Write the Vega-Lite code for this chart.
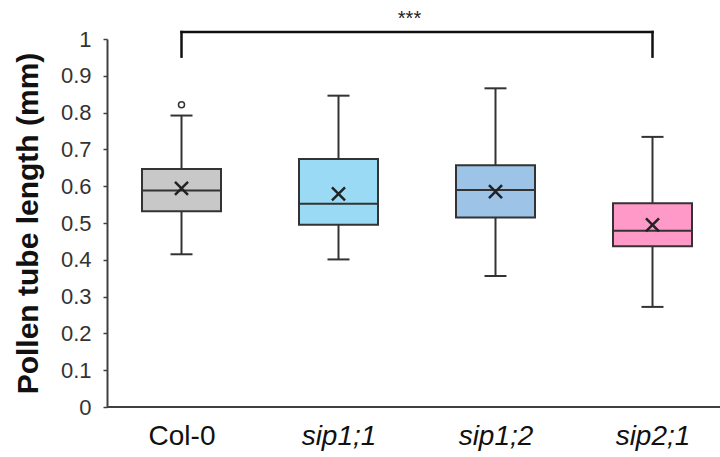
{
  "$schema": "https://vega.github.io/schema/vega-lite/v6.json",
  "autosize": {"type": "none"},
  "width": 613,
  "height": 368,
  "padding": {"left": 107, "top": 39, "right": 0, "bottom": 50},
  "background": "white",
  "config": {
    "font": "Liberation Sans",
    "view": {"stroke": null},
    "axisY": {
      "labelOverlap": false, "format": ".1~f",
      "labelFontSize": 22, "labelColor": "#333333", "labelPadding": 12,
      "titleFontSize": 30, "titleFontWeight": "bold", "titleColor": "#111111", "titlePadding": 17,
      "grid": false, "domainColor": "#404040", "domainWidth": 2, "tickColor": "#404040", "tickSize": 4, "tickWidth": 1.5
    }
  },
  "data": {
    "values": [
      {"group": "Col-0", "min": 0.415, "q1": 0.532, "median": 0.588, "q3": 0.647, "max": 0.792, "mean": 0.594},
      {"group": "sip1;1", "min": 0.401, "q1": 0.495, "median": 0.552, "q3": 0.674, "max": 0.846, "mean": 0.579},
      {"group": "sip1;2", "min": 0.356, "q1": 0.515, "median": 0.590, "q3": 0.657, "max": 0.866, "mean": 0.585},
      {"group": "sip2;1", "min": 0.272, "q1": 0.437, "median": 0.479, "q3": 0.554, "max": 0.734, "mean": 0.495}
    ]
  },
  "encoding": {
    "x": {
      "field": "group", "type": "nominal",
      "scale": {"type": "point", "domain": ["Col-0", "sip1;1", "sip1;2", "sip2;1"], "range": [74.5, 545.5], "padding": 0},
      "axis": {
        "title": null, "domain": false, "ticks": false, "labelAngle": 0,
        "labelFontSize": 28, "labelColor": "#111111", "labelPadding": 15,
        "labelFontStyle": {"condition": {"test": "datum.value == 'Col-0'", "value": "normal"}, "value": "italic"}
      }
    }
  },
  "layer": [
    {
      "mark": {"type": "rule", "color": "#333333", "strokeWidth": 2},
      "encoding": {
        "y": {"field": "min", "type": "quantitative", "scale": {"domain": [0, 1], "nice": false},
          "axis": {"title": "Pollen tube length (mm)", "labelOverlap": false, "values": [0, 0.1, 0.2, 0.3, 0.4, 0.5, 0.6, 0.7, 0.8, 0.9, 1]}},
        "y2": {"field": "q1"}
      }
    },
    {
      "mark": {"type": "rule", "color": "#333333", "strokeWidth": 2},
      "encoding": {"y": {"field": "q3", "type": "quantitative", "axis": {"title": "Pollen tube length (mm)", "labelOverlap": false, "values": [0, 0.1, 0.2, 0.3, 0.4, 0.5, 0.6, 0.7, 0.8, 0.9, 1]}}, "y2": {"field": "max"}}
    },
    {
      "mark": {"type": "tick", "color": "#333333", "size": 22, "thickness": 2, "opacity": 1},
      "encoding": {"y": {"field": "min", "type": "quantitative", "axis": {"title": "Pollen tube length (mm)", "labelOverlap": false, "values": [0, 0.1, 0.2, 0.3, 0.4, 0.5, 0.6, 0.7, 0.8, 0.9, 1]}}}
    },
    {
      "mark": {"type": "tick", "color": "#333333", "size": 22, "thickness": 2, "opacity": 1},
      "encoding": {"y": {"field": "max", "type": "quantitative", "axis": {"title": "Pollen tube length (mm)", "labelOverlap": false, "values": [0, 0.1, 0.2, 0.3, 0.4, 0.5, 0.6, 0.7, 0.8, 0.9, 1]}}}
    },
    {
      "mark": {"type": "bar", "width": 79, "stroke": "#333333", "strokeWidth": 2, "opacity": 1},
      "encoding": {
        "y": {"field": "q1", "type": "quantitative", "axis": {"title": "Pollen tube length (mm)", "labelOverlap": false, "values": [0, 0.1, 0.2, 0.3, 0.4, 0.5, 0.6, 0.7, 0.8, 0.9, 1]}}, "y2": {"field": "q3"},
        "color": {"field": "group", "type": "nominal", "legend": null,
          "scale": {"domain": ["Col-0", "sip1;1", "sip1;2", "sip2;1"], "range": ["#C8C8C8", "#9BDAF5", "#9DC3E6", "#FF99C7"]}}
      }
    },
    {
      "mark": {"type": "tick", "color": "#333333", "size": 79, "thickness": 2, "opacity": 1},
      "encoding": {"y": {"field": "median", "type": "quantitative", "axis": {"title": "Pollen tube length (mm)", "labelOverlap": false, "values": [0, 0.1, 0.2, 0.3, 0.4, 0.5, 0.6, 0.7, 0.8, 0.9, 1]}}}
    },
    {
      "mark": {"type": "point", "shape": "M-1,-1L1,1M1,-1L-1,1", "size": 170, "filled": false, "stroke": "#222222", "strokeWidth": 2.5, "opacity": 1},
      "encoding": {"y": {"field": "mean", "type": "quantitative", "axis": {"title": "Pollen tube length (mm)", "labelOverlap": false, "values": [0, 0.1, 0.2, 0.3, 0.4, 0.5, 0.6, 0.7, 0.8, 0.9, 1]}}}
    },
    {
      "data": {"values": [{"group": "Col-0", "outlier": 0.821}]},
      "mark": {"type": "point", "shape": "circle", "size": 36, "filled": false, "stroke": "#333333", "strokeWidth": 1.5, "opacity": 1},
      "encoding": {"y": {"field": "outlier", "type": "quantitative", "axis": {"title": "Pollen tube length (mm)", "labelOverlap": false, "values": [0, 0.1, 0.2, 0.3, 0.4, 0.5, 0.6, 0.7, 0.8, 0.9, 1]}}}
    },
    {
      "data": {"values": [{"yv": 0}]},
      "mark": {"type": "rule", "color": "#404040", "strokeWidth": 2},
      "encoding": {"x": null, "y": {"field": "yv", "type": "quantitative", "axis": {"title": "Pollen tube length (mm)", "labelOverlap": false, "values": [0, 0.1, 0.2, 0.3, 0.4, 0.5, 0.6, 0.7, 0.8, 0.9, 1]}}}
    },
    {
      "data": {"values": [{"a": "Col-0", "b": "sip2;1", "top": 1.019, "bottom": 0.952, "label": "***", "ty": 1.037}]},
      "layer": [
        {
          "mark": {"type": "rule", "color": "#111111", "strokeWidth": 2.5, "strokeCap": "square"},
          "encoding": {"x": {"field": "a", "type": "nominal"}, "x2": {"field": "b"}, "y": {"field": "top", "type": "quantitative", "axis": {"title": "Pollen tube length (mm)", "labelOverlap": false, "values": [0, 0.1, 0.2, 0.3, 0.4, 0.5, 0.6, 0.7, 0.8, 0.9, 1]}}}
        },
        {
          "mark": {"type": "rule", "color": "#111111", "strokeWidth": 2.5, "strokeCap": "square"},
          "encoding": {"x": {"field": "a", "type": "nominal"}, "y": {"field": "bottom", "type": "quantitative", "axis": {"title": "Pollen tube length (mm)", "labelOverlap": false, "values": [0, 0.1, 0.2, 0.3, 0.4, 0.5, 0.6, 0.7, 0.8, 0.9, 1]}}, "y2": {"field": "top"}}
        },
        {
          "mark": {"type": "rule", "color": "#111111", "strokeWidth": 2.5, "strokeCap": "square"},
          "encoding": {"x": {"field": "b", "type": "nominal"}, "y": {"field": "bottom", "type": "quantitative", "axis": {"title": "Pollen tube length (mm)", "labelOverlap": false, "values": [0, 0.1, 0.2, 0.3, 0.4, 0.5, 0.6, 0.7, 0.8, 0.9, 1]}}, "y2": {"field": "top"}}
        },
        {
          "mark": {"type": "text", "fontSize": 20, "color": "#222222", "baseline": "alphabetic", "dx": -4},
          "encoding": {"x": null, "y": {"field": "ty", "type": "quantitative", "axis": {"title": "Pollen tube length (mm)", "labelOverlap": false, "values": [0, 0.1, 0.2, 0.3, 0.4, 0.5, 0.6, 0.7, 0.8, 0.9, 1]}}, "text": {"field": "label"}}
        }
      ]
    }
  ]
}
